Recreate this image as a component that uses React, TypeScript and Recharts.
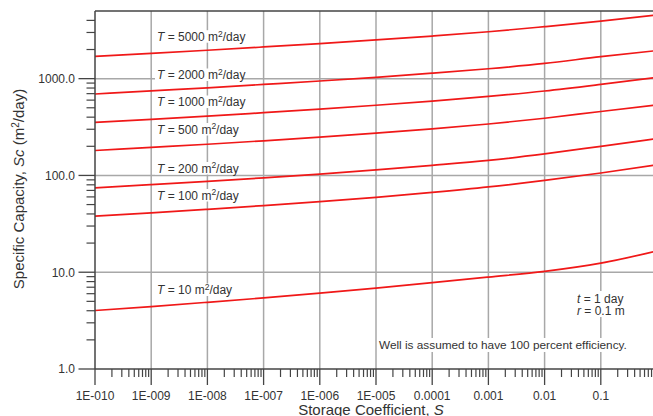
import React from "react";
import { LineChart, Line, XAxis, YAxis, CartesianGrid, ReferenceLine } from "recharts";

// Storage coefficient S (x values)
const storageCoefficient = [1e-10, 1e-9, 1e-8, 1e-7, 1e-6, 1e-5, 1e-4, 1e-3, 1e-2, 1e-1, 1];

// Specific capacity Sc (m2/day), one array per transmissivity
const sc5000 = [1700, 1825, 1965, 2125, 2305, 2510, 2755, 3050, 3445, 3925, 4560];
const sc2000 = [694, 748, 804, 872, 946, 1033, 1138, 1265, 1435, 1690, 1950];
const sc1000 = [354, 380, 410, 445, 484, 531, 586, 655, 745, 871, 1030];
const sc500 = [181, 195, 210, 228, 249, 274, 303, 340, 390, 458, 535];
const sc200 = [74.5, 80.4, 86.9, 94.4, 103, 114, 127, 143, 167, 200, 240];
const sc100 = [38.0, 41.1, 44.7, 48.8, 53.6, 59.4, 66.7, 76.0, 88.9, 106, 129];
const sc10 = [4.02, 4.42, 4.89, 5.43, 6.08, 6.85, 7.8, 8.91, 10.2, 12.4, 16.6];

const seriesKeys = ["T5000", "T2000", "T1000", "T500", "T200", "T100", "T10"];
const seriesValues = [sc5000, sc2000, sc1000, sc500, sc200, sc100, sc10];
const curveLabels = ["5000", "2000", "1000", "500", "200", "100", "10"];

const xMajorTicks = [1e-10, 1e-9, 1e-8, 1e-7, 1e-6, 1e-5, 1e-4, 1e-3, 1e-2, 1e-1];
const xTickLabels = ["1E-010", "1E-009", "1E-008", "1E-007", "1E-006", "1E-005", "0.0001", "0.001", "0.01", "0.1"];
const yMajorTicks = [1, 10, 100, 1000];
const yTickLabels = ["1.0", "10.0", "100.0", "1000.0"];
const minorMultipliers = [2, 3, 4, 5, 6, 7, 8, 9];
const yExtraMinor = [2000, 3000, 4000];

const xMinorTicks = xMajorTicks.flatMap((m) => minorMultipliers.map((k) => k * m));
const yMinorTicks = [1, 10, 100].flatMap((m) => minorMultipliers.map((k) => k * m)).concat(yExtraMinor);

const data = storageCoefficient.map((s, i) => {
  const row: Record<string, number> = { S: s };
  seriesKeys.forEach((k, j) => {
    row[k] = seriesValues[j][i];
  });
  return row;
});

const FONT = "'Liberation Sans', Arial, Helvetica, sans-serif";
const TEXT = "#333";
const AXIS = "#444";
const RED = "#f01818";

const findMajor = (list: number[], v: number) =>
  list.findIndex((m) => Math.abs(m - v) / m < 1e-6);

const XTick = (props: any) => {
  const { x, y, payload } = props;
  const idx = findMajor(xMajorTicks, payload.value);
  if (idx < 0) {
    return <line x1={x} x2={x} y1={y} y2={y + 8} stroke={AXIS} strokeWidth={1.2} />;
  }
  return (
    <g>
      <line x1={x} x2={x} y1={y} y2={y + 16} stroke={AXIS} strokeWidth={1.3} />
      <text x={x} y={y + 30.5} textAnchor="middle" fontSize={12} fontFamily={FONT} fill={TEXT}>
        {xTickLabels[idx]}
      </text>
    </g>
  );
};

const YTick = (props: any) => {
  const { x, y, payload } = props;
  const idx = findMajor(yMajorTicks, payload.value);
  if (idx < 0) {
    return <line x1={x - 8.5} x2={x} y1={y} y2={y} stroke={AXIS} strokeWidth={1.2} />;
  }
  return (
    <g>
      <line x1={x - 16.5} x2={x} y1={y} y2={y} stroke={AXIS} strokeWidth={1.3} />
      <text x={x - 20} y={y + 4.3} textAnchor="end" fontSize={12} fontFamily={FONT} fill={TEXT}>
        {yTickLabels[idx]}
      </text>
    </g>
  );
};

// label placement (annotation positions in pixels)
const labelTops = [36.7, 75, 102, 129.5, 168.5, 195.5, 290];
const labelWidths = [88, 88, 88, 82, 82, 82, 76];

export default function App() {
  return (
    <div style={{ position: "relative", width: 653, height: 416, overflow: "hidden", background: "#fff" }}>
      <style>{`body{margin:0;overflow:hidden;background:#fff}`}</style>
      <LineChart
        width={670}
        height={416}
        data={data}
        margin={{ top: 11, right: 13, bottom: 0, left: 0 }}
      >
        <CartesianGrid
          stroke="#a8a8a8"
          strokeWidth={1.5}
          horizontalValues={[10, 100, 1000]}
          verticalValues={xMajorTicks.slice(1)}
        />
        <XAxis
          dataKey="S"
          type="number"
          scale="log"
          domain={[1e-10, 1]}
          allowDataOverflow
          ticks={[...xMajorTicks, ...xMinorTicks]}
          interval={0}
          tick={(p: any) => <XTick {...p} />}
          tickLine={false}
          tickSize={0}
          tickMargin={0}
          height={47}
          axisLine={{ stroke: AXIS, strokeWidth: 1.5 }}
        />
        <YAxis
          type="number"
          scale="log"
          domain={[1, 5000]}
          allowDataOverflow
          ticks={[...yMajorTicks, ...yMinorTicks]}
          interval={0}
          tick={(p: any) => <YTick {...p} />}
          tickLine={false}
          tickSize={0}
          tickMargin={0}
          width={95}
          axisLine={{ stroke: AXIS, strokeWidth: 1.5 }}
        />
        <ReferenceLine y={5000} stroke={AXIS} strokeWidth={1.5} />
        {seriesKeys.map((k) => (
          <Line
            key={k}
            dataKey={k}
            type="monotone"
            stroke={RED}
            strokeWidth={1.7}
            dot={false}
            isAnimationActive={false}
          />
        ))}
      </LineChart>
      <svg
        width={653}
        height={416}
        style={{ position: "absolute", left: 0, top: 0, pointerEvents: "none" }}
        fontFamily={FONT}
      >
        {curveLabels.map((t, i) => (
          <g key={t}>
            <rect x={155} y={labelTops[i] - 6.5} width={labelWidths[i]} height={12.5} fill="#fff" />
            <text x={157} y={labelTops[i] + 4.3} fontSize={12} fill={TEXT}>
              <tspan fontStyle="italic">T</tspan>
              <tspan>{` = ${t} m`}</tspan>
              <tspan dy={-4.5} fontSize={8.5}>2</tspan>
              <tspan dy={4.5}>/day</tspan>
            </text>
          </g>
        ))}
        <rect x={574} y={291} width={54} height={26} fill="#fff" />
        <text x={577} y={302.5} fontSize={12} fill={TEXT}>
          <tspan fontStyle="italic">t</tspan>
          <tspan> = 1 day</tspan>
        </text>
        <text x={577} y={314.5} fontSize={12} fill={TEXT}>
          <tspan fontStyle="italic">r</tspan>
          <tspan> = 0.1 m</tspan>
        </text>
        <rect x={377} y={338} width={258} height={14} fill="#fff" />
        <text x={379} y={349} fontSize={11.8} fill={TEXT}>
          Well is assumed to have 100 percent efficiency.
        </text>
        <text x={371} y={415} textAnchor="middle" fontSize={15} fill={TEXT}>
          <tspan>Storage Coefficient, </tspan>
          <tspan fontStyle="italic">S</tspan>
        </text>
        <text
          x={0}
          y={0}
          transform="translate(24,189) rotate(-90)"
          textAnchor="middle"
          fontSize={15}
          fill={TEXT}
        >
          <tspan>Specific Capacity, </tspan>
          <tspan fontStyle="italic">Sc</tspan>
          <tspan> (m</tspan>
          <tspan dy={-5} fontSize={10}>2</tspan>
          <tspan dy={5}>/day)</tspan>
        </text>
      </svg>
    </div>
  );
}
